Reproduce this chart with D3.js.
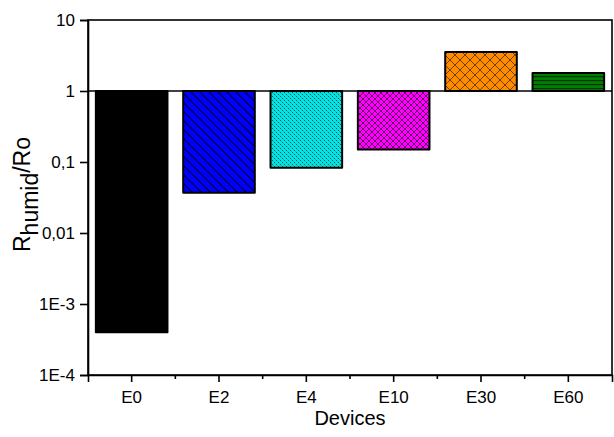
<!DOCTYPE html>
<html>
<head>
<meta charset="utf-8">
<script src="https://cdn.jsdelivr.net/npm/d3@7"></script>
<style>
  html, body { margin: 0; padding: 0; background: #fff; }
  svg { display: block; font-family: "Liberation Sans", Arial, sans-serif; }
</style>
</head>
<body>
<svg id="chart" width="614" height="437"></svg>
<script>
// Resistance ratio R_humid / Ro for each device
const devices = ["E0", "E2", "E4", "E10", "E30", "E60"];
const ratios = [0.0004, 0.037, 0.083, 0.15, 3.55, 1.8];
const fills = ["#000000", "#0000ff", "#00e5e5", "#ff00ff", "#ff8c00", "#008000"];
const patterns = ["solid", "diag", "fineCheck", "smallCross", "bigCross", "hlines"];
const yTickValues = [1e-4, 1e-3, 0.01, 0.1, 1, 10];
const yTickLabels = ["1E-4", "1E-3", "0,01", "0,1", "1", "10"];

const svg = d3.select("#chart");
const plotLeft = 88, plotRight = 612, plotTop = 20, plotBottom = 375;

const x = d3.scaleBand().domain(devices).range([plotLeft, plotRight]).paddingInner(0.18).paddingOuter(0.09);
const xTicks = d3.scaleBand().domain(devices).range([plotLeft, plotRight]);
const y = d3.scaleLog().domain([1e-4, 10]).range([plotBottom, plotTop]);

// Hatch patterns
const defs = svg.append("defs");
function addPattern(id, size, bg, draw) {
  const p = defs.append("pattern").attr("id", id).attr("patternUnits", "userSpaceOnUse")
    .attr("width", size).attr("height", size);
  p.append("rect").attr("width", size).attr("height", size).attr("fill", bg);
  draw(p);
}
addPattern("p1", 9, fills[1], p => {
  p.append("path").attr("d", "M-2,-2 L11,11 M-2,7 L2,11 M7,-2 L11,2")
    .attr("stroke", "#000030").attr("stroke-width", 1.2);
});
addPattern("p2", 4, fills[2], p => {
  p.append("rect").attr("x", 0).attr("y", 0).attr("width", 1).attr("height", 1).attr("fill", "#006060");
  p.append("rect").attr("x", 2).attr("y", 2).attr("width", 1).attr("height", 1).attr("fill", "#006060");
  p.append("rect").attr("x", 1).attr("y", 1).attr("width", 1).attr("height", 1).attr("fill", "#40a8a8");
  p.append("rect").attr("x", 3).attr("y", 3).attr("width", 1).attr("height", 1).attr("fill", "#40a8a8");
});
addPattern("p3", 6, fills[3], p => {
  p.append("path").attr("d", "M0,0 L6,6 M6,0 L0,6")
    .attr("stroke", "#6a006a").attr("stroke-width", 1);
});
addPattern("p4", 10, fills[4], p => {
  p.append("path").attr("d", "M0,0 L10,10 M10,0 L0,10")
    .attr("stroke", "#704000").attr("stroke-width", 1);
});
addPattern("p5", 4, fills[5], p => {
  p.append("rect").attr("x", 0).attr("y", 0).attr("width", 4).attr("height", 1.2).attr("fill", "#003000");
});

const fillFor = i => patterns[i] === "solid" ? fills[i] : `url(#p${i})`;

// Frame
svg.append("rect").attr("x", plotLeft).attr("y", plotTop).attr("width", plotRight - plotLeft).attr("height", plotBottom - plotTop)
  .attr("fill", "none").attr("stroke", "#000").attr("stroke-width", 1.6);

// Bars grow from the reference level of 1
const base = y(1);
svg.append("g").selectAll("rect").data(devices).join("rect")
  .attr("x", d => x(d))
  .attr("width", x.bandwidth())
  .attr("y", (d, i) => Math.min(y(ratios[i]), base))
  .attr("height", (d, i) => Math.abs(y(ratios[i]) - base))
  .attr("fill", (d, i) => fillFor(i))
  .attr("stroke", "#000").attr("stroke-width", 2).attr("stroke-linejoin", "round");

// Reference line at ratio = 1
svg.append("line").attr("x1", plotLeft).attr("x2", plotRight).attr("y1", base).attr("y2", base)
  .attr("stroke", "#000").attr("stroke-width", 1.6);

// Y axis
const yAxis = d3.axisLeft(y).tickValues(yTickValues)
  .tickFormat((d, i) => yTickLabels[i]).tickSizeOuter(0).tickSize(8).tickPadding(5);
const gy = svg.append("g").attr("transform", `translate(${plotLeft},0)`).call(yAxis);
gy.select(".domain").attr("stroke-width", 1.6);
gy.selectAll(".tick line").attr("stroke-width", 1.6);
gy.selectAll("text").attr("font-size", 17).attr("font-family", "Liberation Sans, Arial, sans-serif").attr("fill", "#000");

// X axis: major ticks at band centres, minor ticks at band edges
const xAxis = d3.axisBottom(x).tickSizeOuter(0).tickSize(7).tickPadding(9);
const gx = svg.append("g").attr("transform", `translate(0,${plotBottom})`).call(xAxis);
gx.select(".domain").attr("stroke-width", 1.6);
gx.selectAll(".tick line").attr("stroke-width", 1.6);
gx.selectAll("text").attr("font-size", 17).attr("font-family", "Liberation Sans, Arial, sans-serif").attr("fill", "#000");
gx.append("g").selectAll("line").data(devices.slice(1)).join("line")
  .attr("x1", d => xTicks(d)).attr("x2", d => xTicks(d))
  .attr("y1", 0).attr("y2", 4).attr("stroke", "#000").attr("stroke-width", 1.6);

// Axis titles
svg.append("text").attr("x", (plotLeft + plotRight) / 2).attr("y", 425)
  .attr("text-anchor", "middle").attr("font-size", 20).text("Devices");

const yt = svg.append("text").attr("transform", `translate(30,${(plotTop + plotBottom) / 2 - 3}) rotate(-90)`)
  .attr("text-anchor", "middle").attr("font-size", 23);
yt.append("tspan").text("R");
yt.append("tspan").attr("dy", 8).text("humid");
yt.append("tspan").attr("dy", -8).text("/Ro");
</script>
</body>
</html>
